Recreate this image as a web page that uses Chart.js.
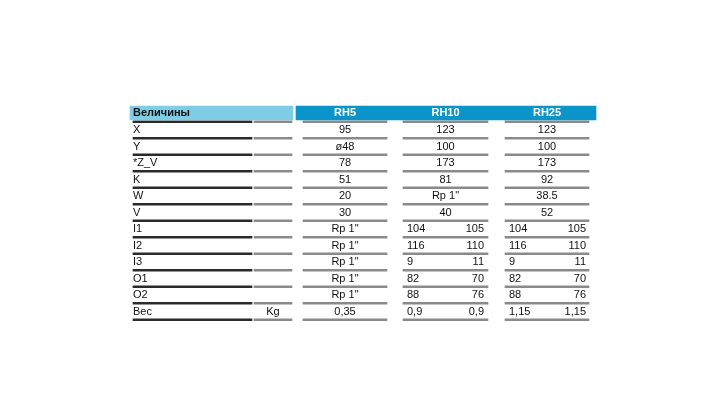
<!DOCTYPE html>
<html>
<head>
<meta charset="utf-8">
<script src="https://cdn.jsdelivr.net/npm/chart.js@4"></script>
<style>
  html, body { margin: 0; padding: 0; background: #fff; }
  #wrap { width: 720px; height: 405px; }
</style>
</head>
<body>
<div id="wrap"><canvas id="tableChart"></canvas></div>
<script>
// table data
const headTitle = "Величины";
const models = ["RH5", "RH10", "RH25"];
const rowLabels = ["X", "Y", "*Z_V", "K", "W", "V", "I1", "I2", "I3", "O1", "O2", "Вес"];
const units = ["", "", "", "", "", "", "", "", "", "", "", "Kg"];
const rh5 = ["95", "ø48", "78", "51", "20", "30", 'Rp 1"', 'Rp 1"', 'Rp 1"', 'Rp 1"', 'Rp 1"', "0,35"];
// single value rows, then rows with two values
const rh10 = ["123", "100", "173", "81", 'Rp 1"', "40",
  ["104", "105"], ["116", "110"], ["9", "11"], ["82", "70"], ["88", "76"], ["0,9", "0,9"]];
const rh25 = ["123", "100", "173", "92", "38.5", "52",
  ["104", "105"], ["116", "110"], ["9", "11"], ["82", "70"], ["88", "76"], ["1,15", "1,15"]];

// layout (x in table units = px)
const labelX = 133;
const unitX = 273;
const colCenter = [345, 445.5, 547];
const pairLeft = [null, 407, 509];
const pairRight = [null, 484, 586];
const bands = [[130, 293], [296, 596]];
const darkRule = [133, 252];
const grayRules = [[254, 292], [303, 387], [403, 488], [505, 589]];

const rowCount = rowLabels.length;
const ruleRows = [];
for (let i = 0; i <= rowCount; i++) ruleRows.push(i + 0.53);

const tablePlugin = {
  id: "tableText",
  afterDatasetsDraw(chart) {
    const ctx = chart.ctx;
    const xs = chart.scales.x;
    const ys = chart.scales.y;
    ctx.save();
    ctx.textBaseline = "middle";

    // header
    ctx.font = "bold 11px 'Liberation Sans', Arial, sans-serif";
    ctx.fillStyle = "#111";
    ctx.textAlign = "left";
    ctx.fillText(headTitle, xs.getPixelForValue(labelX), ys.getPixelForValue(0));
    ctx.fillStyle = "#fff";
    ctx.textAlign = "center";
    models.forEach((m, k) => {
      ctx.fillText(m, xs.getPixelForValue(colCenter[k]), ys.getPixelForValue(0));
    });

    // body
    ctx.font = "11px 'Liberation Sans', Arial, sans-serif";
    ctx.fillStyle = "#111";
    const cols = [rh5, rh10, rh25];
    rowLabels.forEach((lab, i) => {
      const y = ys.getPixelForValue(i + 1) + 0.5;
      ctx.textAlign = "left";
      ctx.fillText(lab, xs.getPixelForValue(labelX), y);
      if (units[i]) {
        ctx.textAlign = "center";
        ctx.fillText(units[i], xs.getPixelForValue(unitX), y);
      }
      cols.forEach((col, k) => {
        const v = col[i];
        if (Array.isArray(v)) {
          ctx.textAlign = "left";
          ctx.fillText(v[0], xs.getPixelForValue(pairLeft[k]), y);
          ctx.textAlign = "right";
          ctx.fillText(v[1], xs.getPixelForValue(pairRight[k]), y);
        } else {
          ctx.textAlign = "center";
          ctx.fillText(v, xs.getPixelForValue(colCenter[k]), y);
        }
      });
    });
    ctx.restore();
  }
};

const datasets = [
  {
    // header bands
    data: bands.map(b => ({ x: b, y: 0 })),
    backgroundColor: ["#7fcde4", "#0b94c9"],
    barThickness: 14
  },
  {
    data: ruleRows.map(r => ({ x: darkRule, y: r })),
    backgroundColor: "#2a2a2a",
    barThickness: 2
  }
];
grayRules.forEach(seg => {
  datasets.push({
    data: ruleRows.map(r => ({ x: seg, y: r })),
    backgroundColor: "#8a8a8a",
    barThickness: 2
  });
});

new Chart(document.getElementById("tableChart"), {
  type: "bar",
  data: { datasets: datasets },
  options: {
    indexAxis: "y",
    responsive: true,
    maintainAspectRatio: false,
    animation: false,
    grouped: false,
    layout: { padding: 0 },
    plugins: { legend: { display: false }, tooltip: { enabled: false } },
    scales: {
      x: { type: "linear", min: 0, max: 720, display: false, offset: false },
      y: { type: "linear", reverse: true, offset: false, min: -113 / 16.5, max: (405 - 113) / 16.5, display: false }
    }
  },
  plugins: [tablePlugin]
});
</script>
</body>
</html>
